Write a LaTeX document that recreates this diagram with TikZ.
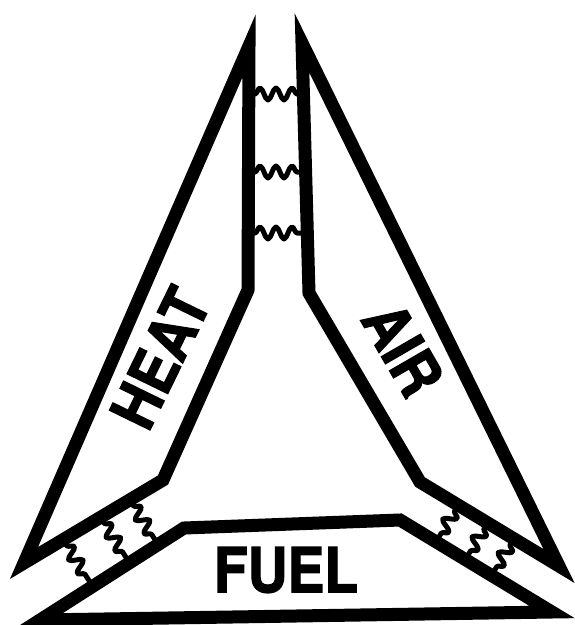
\documentclass[tikz,border=0pt]{standalone}
\usepackage{fontspec}
\usepackage{graphicx}
\setmainfont{TeX Gyre Heros}
\newfontface\lblfont{TeX Gyre Heros Bold}[FakeBold=2]
\usetikzlibrary{calc,decorations.pathmorphing}
\tikzset{
  strip/.style={draw=black, line width=13pt, line join=miter, miter limit=12},
  wavy/.style={draw=black, line width=5pt, line cap=round, line join=round,
    decoration={snake, segment length=16pt, amplitude=6pt, pre length=7pt, post length=7pt},
    decorate},
  lbl/.style={font=\fontsize{62}{62}\selectfont\lblfont, inner sep=0pt}}
\begin{document}
\begin{tikzpicture}[x=1pt,y=-1pt]
\useasboundingbox (0,0) rectangle (575,625);
\fill[white] (0,0) rectangle (575,625);
\clip (0,0) rectangle (575,625);
% HEAT strip
\coordinate (Vt) at (249,46);
\coordinate (Vbl) at (24,563);
\coordinate (C) at (163,480);
\coordinate (D) at (248,290);
% AIR strip
\coordinate (Vtr) at (302,43);
\coordinate (Vbr) at (559,566);
\coordinate (E) at (420,482);
\coordinate (Dp) at (309,293);
% FUEL strip
\coordinate (F1) at (184,528);
\coordinate (F2) at (400,520);
\coordinate (F3) at (552,612);
\coordinate (F4) at (40,620);
% top channel waves
\coordinate (wt1a) at (248,94);  \coordinate (wt1b) at (304,94);
\coordinate (wt2a) at (248,172); \coordinate (wt2b) at (306,172);
\coordinate (wt3a) at (248,233); \coordinate (wt3b) at (307.5,233);
% left channel waves
\coordinate (wl1a) at ($(C)!0.24!(Vbl)$); \coordinate (wl1b) at ($(F1)!(wl1a)!(F4)$);
\coordinate (wl2a) at ($(C)!0.45!(Vbl)$); \coordinate (wl2b) at ($(F1)!(wl2a)!(F4)$);
\coordinate (wl3a) at ($(C)!0.72!(Vbl)$); \coordinate (wl3b) at ($(F1)!(wl3a)!(F4)$);
% right channel waves
\coordinate (wr1a) at ($(E)!0.275!(Vbr)$); \coordinate (wr1b) at ($(F2)!(wr1a)!(F3)$);
\coordinate (wr2a) at ($(E)!0.486!(Vbr)$); \coordinate (wr2b) at ($(F2)!(wr2a)!(F3)$);
\coordinate (wr3a) at ($(E)!0.674!(Vbr)$); \coordinate (wr3b) at ($(F2)!(wr3a)!(F3)$);
\draw[wavy] (wt1a) -- (wt1b);
\draw[wavy] (wt2a) -- (wt2b);
\draw[wavy] (wt3a) -- (wt3b);
\draw[wavy] (wl1a) -- (wl1b);
\draw[wavy] (wl2a) -- (wl2b);
\draw[wavy] (wl3a) -- (wl3b);
\draw[wavy] (wr1a) -- (wr1b);
\draw[wavy] (wr2a) -- (wr2b);
\draw[wavy] (wr3a) -- (wr3b);
% strips
\draw[strip] (Vt) -- (Vbl) -- (C) -- (D) -- cycle;
\draw[strip] (Vtr) -- (Vbr) -- (E) -- (Dp) -- cycle;
\draw[strip] (F1) -- (F2) -- (F3) -- (F4) -- cycle;
% labels
\node[lbl, rotate=64] (heat) at (160,358) {\scalebox{0.89}[1]{HEAT}};
\node[lbl, rotate=-60] (air) at (403,349) {\scalebox{0.89}[1]{AIR}};
\node[lbl] (fuel) at (286,570) {\scalebox{0.89}[1]{FUEL}};
\end{tikzpicture}
\end{document}
